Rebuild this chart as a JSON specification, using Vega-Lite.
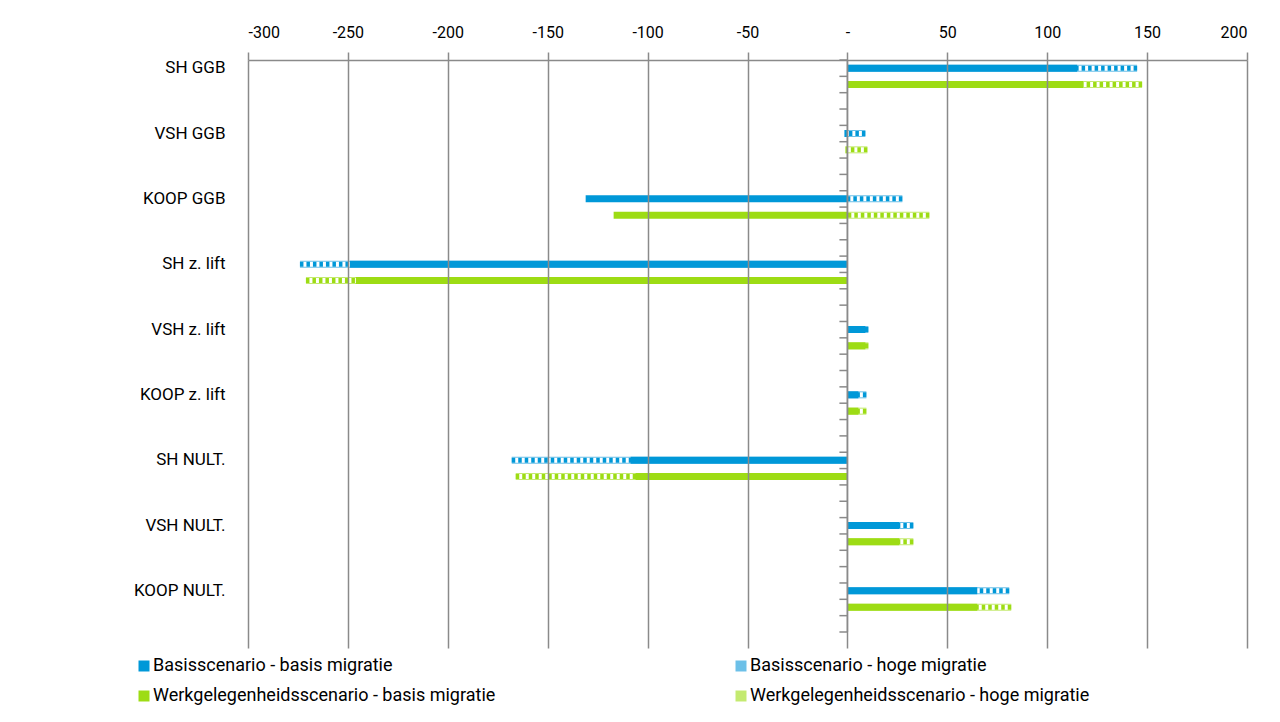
{
  "$schema": "https://vega.github.io/schema/vega-lite/v6.json",
  "width": 999,
  "height": 572,
  "autosize": {"type": "none"},
  "padding": {"left": 248, "top": 60, "right": 33, "bottom": 90},
  "config": {
    "font": "Roboto",
    "view": {"stroke": null}
  },
  "datasets": {
    "bars": [
      {"cat": "SH GGB", "scen": "Basisscenario", "mig": "basis", "serie": "Basisscenario - basis migratie", "value": 115},
      {"cat": "SH GGB", "scen": "Basisscenario", "mig": "hoge", "serie": "Basisscenario - hoge migratie", "value": 145},
      {"cat": "SH GGB", "scen": "Werkgelegenheidsscenario", "mig": "basis", "serie": "Werkgelegenheidsscenario - basis migratie", "value": 118},
      {"cat": "SH GGB", "scen": "Werkgelegenheidsscenario", "mig": "hoge", "serie": "Werkgelegenheidsscenario - hoge migratie", "value": 147.5},
      {"cat": "VSH GGB", "scen": "Basisscenario", "mig": "basis", "serie": "Basisscenario - basis migratie", "value": -1.5},
      {"cat": "VSH GGB", "scen": "Basisscenario", "mig": "hoge", "serie": "Basisscenario - hoge migratie", "value": 9},
      {"cat": "VSH GGB", "scen": "Werkgelegenheidsscenario", "mig": "basis", "serie": "Werkgelegenheidsscenario - basis migratie", "value": -1},
      {"cat": "VSH GGB", "scen": "Werkgelegenheidsscenario", "mig": "hoge", "serie": "Werkgelegenheidsscenario - hoge migratie", "value": 10},
      {"cat": "KOOP GGB", "scen": "Basisscenario", "mig": "basis", "serie": "Basisscenario - basis migratie", "value": -131},
      {"cat": "KOOP GGB", "scen": "Basisscenario", "mig": "hoge", "serie": "Basisscenario - hoge migratie", "value": 27.5},
      {"cat": "KOOP GGB", "scen": "Werkgelegenheidsscenario", "mig": "basis", "serie": "Werkgelegenheidsscenario - basis migratie", "value": -117},
      {"cat": "KOOP GGB", "scen": "Werkgelegenheidsscenario", "mig": "hoge", "serie": "Werkgelegenheidsscenario - hoge migratie", "value": 41},
      {"cat": "SH z. lift", "scen": "Basisscenario", "mig": "basis", "serie": "Basisscenario - basis migratie", "value": -249},
      {"cat": "SH z. lift", "scen": "Basisscenario", "mig": "hoge", "serie": "Basisscenario - hoge migratie", "value": -274},
      {"cat": "SH z. lift", "scen": "Werkgelegenheidsscenario", "mig": "basis", "serie": "Werkgelegenheidsscenario - basis migratie", "value": -246},
      {"cat": "SH z. lift", "scen": "Werkgelegenheidsscenario", "mig": "hoge", "serie": "Werkgelegenheidsscenario - hoge migratie", "value": -271},
      {"cat": "VSH z. lift", "scen": "Basisscenario", "mig": "basis", "serie": "Basisscenario - basis migratie", "value": 9},
      {"cat": "VSH z. lift", "scen": "Basisscenario", "mig": "hoge", "serie": "Basisscenario - hoge migratie", "value": 10.5},
      {"cat": "VSH z. lift", "scen": "Werkgelegenheidsscenario", "mig": "basis", "serie": "Werkgelegenheidsscenario - basis migratie", "value": 9},
      {"cat": "VSH z. lift", "scen": "Werkgelegenheidsscenario", "mig": "hoge", "serie": "Werkgelegenheidsscenario - hoge migratie", "value": 10.5},
      {"cat": "KOOP z. lift", "scen": "Basisscenario", "mig": "basis", "serie": "Basisscenario - basis migratie", "value": 5.5},
      {"cat": "KOOP z. lift", "scen": "Basisscenario", "mig": "hoge", "serie": "Basisscenario - hoge migratie", "value": 9.5},
      {"cat": "KOOP z. lift", "scen": "Werkgelegenheidsscenario", "mig": "basis", "serie": "Werkgelegenheidsscenario - basis migratie", "value": 5.5},
      {"cat": "KOOP z. lift", "scen": "Werkgelegenheidsscenario", "mig": "hoge", "serie": "Werkgelegenheidsscenario - hoge migratie", "value": 9.5},
      {"cat": "SH NULT.", "scen": "Basisscenario", "mig": "basis", "serie": "Basisscenario - basis migratie", "value": -108.5},
      {"cat": "SH NULT.", "scen": "Basisscenario", "mig": "hoge", "serie": "Basisscenario - hoge migratie", "value": -168},
      {"cat": "SH NULT.", "scen": "Werkgelegenheidsscenario", "mig": "basis", "serie": "Werkgelegenheidsscenario - basis migratie", "value": -106},
      {"cat": "SH NULT.", "scen": "Werkgelegenheidsscenario", "mig": "hoge", "serie": "Werkgelegenheidsscenario - hoge migratie", "value": -166},
      {"cat": "VSH NULT.", "scen": "Basisscenario", "mig": "basis", "serie": "Basisscenario - basis migratie", "value": 26},
      {"cat": "VSH NULT.", "scen": "Basisscenario", "mig": "hoge", "serie": "Basisscenario - hoge migratie", "value": 33},
      {"cat": "VSH NULT.", "scen": "Werkgelegenheidsscenario", "mig": "basis", "serie": "Werkgelegenheidsscenario - basis migratie", "value": 26},
      {"cat": "VSH NULT.", "scen": "Werkgelegenheidsscenario", "mig": "hoge", "serie": "Werkgelegenheidsscenario - hoge migratie", "value": 33},
      {"cat": "KOOP NULT.", "scen": "Basisscenario", "mig": "basis", "serie": "Basisscenario - basis migratie", "value": 65},
      {"cat": "KOOP NULT.", "scen": "Basisscenario", "mig": "hoge", "serie": "Basisscenario - hoge migratie", "value": 81},
      {"cat": "KOOP NULT.", "scen": "Werkgelegenheidsscenario", "mig": "basis", "serie": "Werkgelegenheidsscenario - basis migratie", "value": 65},
      {"cat": "KOOP NULT.", "scen": "Werkgelegenheidsscenario", "mig": "hoge", "serie": "Werkgelegenheidsscenario - hoge migratie", "value": 82}
    ],
    "ticks": [
      {"k": 0}, {"k": 1}, {"k": 2}, {"k": 3}, {"k": 4}, {"k": 5}, {"k": 6}, {"k": 7}, {"k": 8}, {"k": 9},
      {"k": 10}, {"k": 11}, {"k": 12}, {"k": 13}, {"k": 14}, {"k": 15}, {"k": 16}, {"k": 17}, {"k": 18}, {"k": 19},
      {"k": 20}, {"k": 21}, {"k": 22}, {"k": 23}, {"k": 24}, {"k": 25}, {"k": 26}, {"k": 27}, {"k": 28}, {"k": 29},
      {"k": 30}, {"k": 31}, {"k": 32}, {"k": 33}, {"k": 34}, {"k": 35}
    ]
  },
  "resolve": {"scale": {"y": "independent"}},
  "layer": [
    {
      "data": {"name": "bars"},
      "encoding": {
        "y": {
          "field": "cat", "type": "nominal", "sort": null,
          "scale": {
            "domain": ["SH GGB", "VSH GGB", "KOOP GGB", "SH z. lift", "VSH z. lift", "KOOP z. lift", "SH NULT.", "VSH NULT.", "KOOP NULT."],
            "range": [0, 588], "paddingInner": 0, "paddingOuter": 0
          },
          "axis": {
            "title": null, "domain": false, "ticks": false, "grid": false,
            "labelFontSize": 17, "labelColor": "#000000", "labelPadding": 23,
            "labelOffset": -24.5
          }
        },
        "yOffset": {
          "field": "scen", "type": "nominal",
          "scale": {"domain": ["Basisscenario", "Werkgelegenheidsscenario", "x1", "x2"], "paddingInner": 0.57, "paddingOuter": 0.285}
        },
        "x": {
          "field": "value", "type": "quantitative",
          "scale": {"domain": [-300, 200], "nice": false, "zero": false},
          "axis": {
            "orient": "top", "title": null, "values": [-300, -250, -200, -150, -100, -50, 0, 50, 100, 150, 200],
            "labelExpr": "datum.value == 0 ? '-' : '' + datum.value",
            "grid": true, "gridColor": "#8a8a8a", "gridWidth": 1.5,
            "domainColor": "#8a8a8a", "domainWidth": 1.5,
            "tickColor": "#8a8a8a", "tickWidth": 1.5, "tickSize": 8,
            "labelFontSize": 16, "labelColor": "#000000", "labelPadding": 12,
            "zindex": 1
          }
        }
      },
      "layer": [
        {
          "transform": [{"filter": "datum.mig == 'hoge'"}],
          "mark": {"type": "bar"},
          "encoding": {
            "fill": {
              "field": "serie", "type": "nominal",
              "scale": {
                "domain": ["Basisscenario - basis migratie", "Basisscenario - hoge migratie", "Werkgelegenheidsscenario - basis migratie", "Werkgelegenheidsscenario - hoge migratie"],
                "range": ["#0098d8", "#6cc0e8", "#9ddc14", "#c4ea70"]
              },
              "legend": {
                "orient": "none", "legendX": -113, "legendY": 597, "direction": "horizontal",
                "title": null, "columns": 2, "columnPadding": 236, "rowPadding": 12,
                "symbolType": "square", "symbolSize": 121, "symbolStrokeWidth": 0,
                "labelFontSize": 18, "labelColor": "#000000", "labelOffset": 0, "labelLimit": 600
              }
            }
          }
        },
        {
          "transform": [{"filter": "datum.mig == 'hoge'"}],
          "mark": {"type": "rule", "strokeWidth": 5, "color": "#ffffff"},
          "encoding": {
            "x2": {"datum": 0}
          }
        },
        {
          "transform": [{"filter": "datum.mig == 'hoge'"}],
          "mark": {"type": "rule", "strokeWidth": 5, "strokeDash": [3.5, 3]},
          "encoding": {
            "x2": {"datum": 0},
            "stroke": {
              "field": "scen", "type": "nominal",
              "scale": {"domain": ["Basisscenario", "Werkgelegenheidsscenario"], "range": ["#0098d8", "#9ddc14"]},
              "legend": null
            }
          }
        },
        {
          "transform": [{"filter": "datum.mig == 'basis'"}],
          "mark": {"type": "bar"},
          "encoding": {
            "fill": {"field": "serie", "type": "nominal"}
          }
        }
      ]
    },
    {
      "data": {"name": "ticks"},
      "mark": {"type": "rule", "color": "#8a8a8a", "strokeWidth": 1.5},
      "encoding": {
        "y": {"field": "k", "type": "quantitative", "scale": {"domain": [0, 35], "reverse": true, "nice": false, "zero": false}, "axis": null},
        "x": {"datum": -4},
        "x2": {"datum": 0}
      }
    },
    {
      "data": {"values": [{}]},
      "mark": {"type": "rule", "color": "#8a8a8a", "strokeWidth": 1.5},
      "encoding": {
        "x": {"datum": 0}
      }
    }
  ]
}
